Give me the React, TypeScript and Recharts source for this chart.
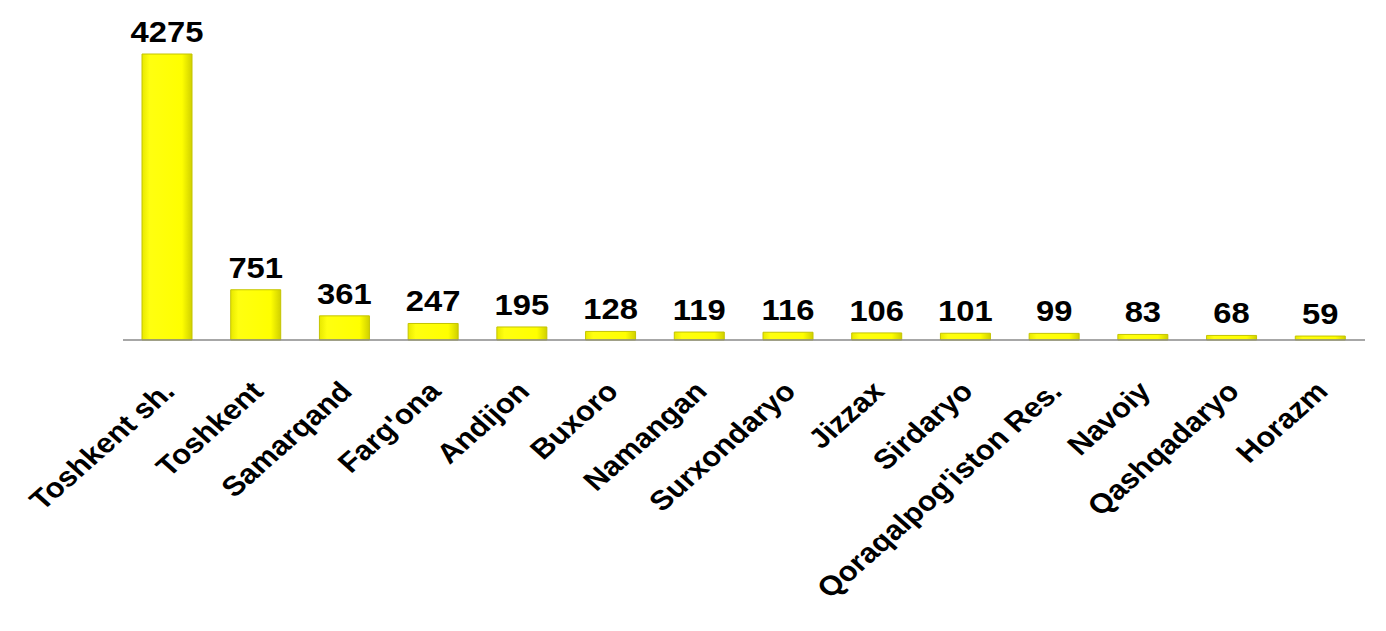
import { BarChart, Bar, XAxis, YAxis, LabelList } from 'recharts';

const regions = [
  'Toshkent sh.',
  'Toshkent',
  'Samarqand',
  "Farg'ona",
  'Andijon',
  'Buxoro',
  'Namangan',
  'Surxondaryo',
  'Jizzax',
  'Sirdaryo',
  "Qoraqalpog'iston Res.",
  'Navoiy',
  'Qashqadaryo',
  'Horazm',
];

const counts = [4275, 751, 361, 247, 195, 128, 119, 116, 106, 101, 99, 83, 68, 59];

const data = regions.map((name, i) => ({ name, value: counts[i] }));

const font = '"Liberation Sans", Arial, sans-serif';
// the source picture is slightly stretched sideways
const stretch = 1.13;

function RegionTick(props: any) {
  const { x, y, payload } = props;
  const tx = x + 9;
  const ty = y + 45;
  return (
    <text
      x={0}
      y={0}
      transform={`translate(${tx}, ${ty}) scale(${stretch}, 1) rotate(-45)`}
      textAnchor="end"
      fontFamily={font}
      fontWeight="bold"
      fontSize={27.5}
      fill="#000"
    >
      {payload.value}
    </text>
  );
}

function ValueLabel(props: any) {
  const { x, y, width, value } = props;
  const cx = x + width / 2;
  const cy = y - 12;
  return (
    <text
      x={0}
      y={0}
      transform={`translate(${cx}, ${cy}) scale(${stretch}, 1)`}
      textAnchor="middle"
      fontFamily={font}
      fontWeight="bold"
      fontSize={29}
      fill="#000"
    >
      {value}
    </text>
  );
}

export default function App() {
  return (
    <div style={{ position: 'absolute', left: 0, top: 0, width: 1386, height: 631, background: '#fff' }}>
      <BarChart
        width={1386}
        height={631}
        data={data}
        margin={{ top: 54, right: 21, bottom: 0, left: 123 }}
        barSize={50}
      >
        <defs>
          <linearGradient id="yellowBar" x1="0" y1="0" x2="1" y2="0">
            <stop offset="0%" stopColor="#e8e800" />
            <stop offset="15%" stopColor="#ffff10" />
            <stop offset="80%" stopColor="#ffff00" />
            <stop offset="100%" stopColor="#d0d000" />
          </linearGradient>
        </defs>
        <YAxis hide domain={[0, 4275]} />
        <XAxis
          dataKey="name"
          interval={0}
          height={291}
          tickLine={false}
          axisLine={{ stroke: '#8a8a8a', strokeWidth: 1.5 }}
          tick={<RegionTick />}
        />
        <Bar dataKey="value" fill="url(#yellowBar)" stroke="#c4c400" strokeWidth={1} isAnimationActive={false}>
          <LabelList dataKey="value" content={<ValueLabel />} />
        </Bar>
      </BarChart>
    </div>
  );
}
